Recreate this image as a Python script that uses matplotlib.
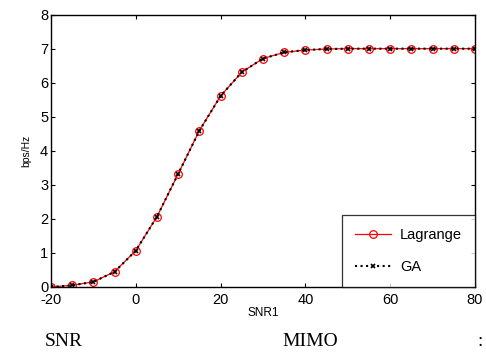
import matplotlib
matplotlib.use("Agg")
import matplotlib.pyplot as plt

plt.rcParams['font.family'] = ['Liberation Sans', 'DejaVu Sans']
plt.rcParams['axes.unicode_minus'] = False

snr = [-20, -15, -10, -5, 0, 5, 10, 15, 20, 25, 30, 35, 40, 45, 50, 55, 60, 65, 70, 75, 80]
lagrange = [0.0, 0.05, 0.15, 0.45, 1.07, 2.07, 3.33, 4.60, 5.62, 6.32, 6.72, 6.90, 6.97, 7.0, 7.01, 7.01, 7.01, 7.01, 7.01, 7.01, 7.01]
ga = [0.0, 0.05, 0.15, 0.45, 1.07, 2.07, 3.33, 4.60, 5.62, 6.32, 6.72, 6.90, 6.97, 7.0, 7.01, 7.01, 7.01, 7.01, 7.01, 7.01, 7.01]
xticks = [-20, 0, 20, 40, 60, 80]
yticks = [0, 1, 2, 3, 4, 5, 6, 7, 8]

fig = plt.figure(figsize=(4.86, 3.6), dpi=100)
ax = fig.add_axes([51/486, 1 - 287/360, (475-51)/486, (287-15)/360])

ax.plot(snr, lagrange, color='red', linestyle='-', linewidth=0.9, marker='o',
        markersize=5.5, markerfacecolor='none', markeredgecolor='red', markeredgewidth=0.9,
        label='Lagrange')
ax.plot(snr, ga, color='black', linestyle=':', linewidth=1.5, marker='x',
        markersize=3, markeredgewidth=1.2, label='GA')

ax.set_xlim(-20, 80)
ax.set_ylim(0, 8)
ax.set_xticks(xticks)
ax.set_yticks(yticks)
ax.tick_params(direction='in', top=True, right=True, labelsize=10.5, length=3, width=0.8, pad=2)
ax.tick_params(axis='x', pad=4)
for s in ax.spines.values():
    s.set_linewidth(1.0)
ax.set_xlabel('SNR1', fontsize=8.5, labelpad=0)
ax.set_ylabel('bps/Hz', fontsize=7.5, labelpad=6)

leg = ax.legend(loc='lower right', fontsize=10.5, frameon=True, fancybox=False,
                edgecolor='black', handlelength=2.5, borderpad=0.9, labelspacing=1.2,
                borderaxespad=0.0, handletextpad=0.6)
leg.get_frame().set_linewidth(0.9)

fig.text(45/486, 1 - 341/360, 'SNR', fontsize=14, family='Liberation Serif', va='center')
fig.text(282/486, 1 - 341/360, 'MIMO', fontsize=14, family='Liberation Serif', va='center')
fig.text(477/486, 1 - 341/360, ':', fontsize=14, family='Liberation Serif', va='center')

fig.savefig('out.png', dpi=100)
